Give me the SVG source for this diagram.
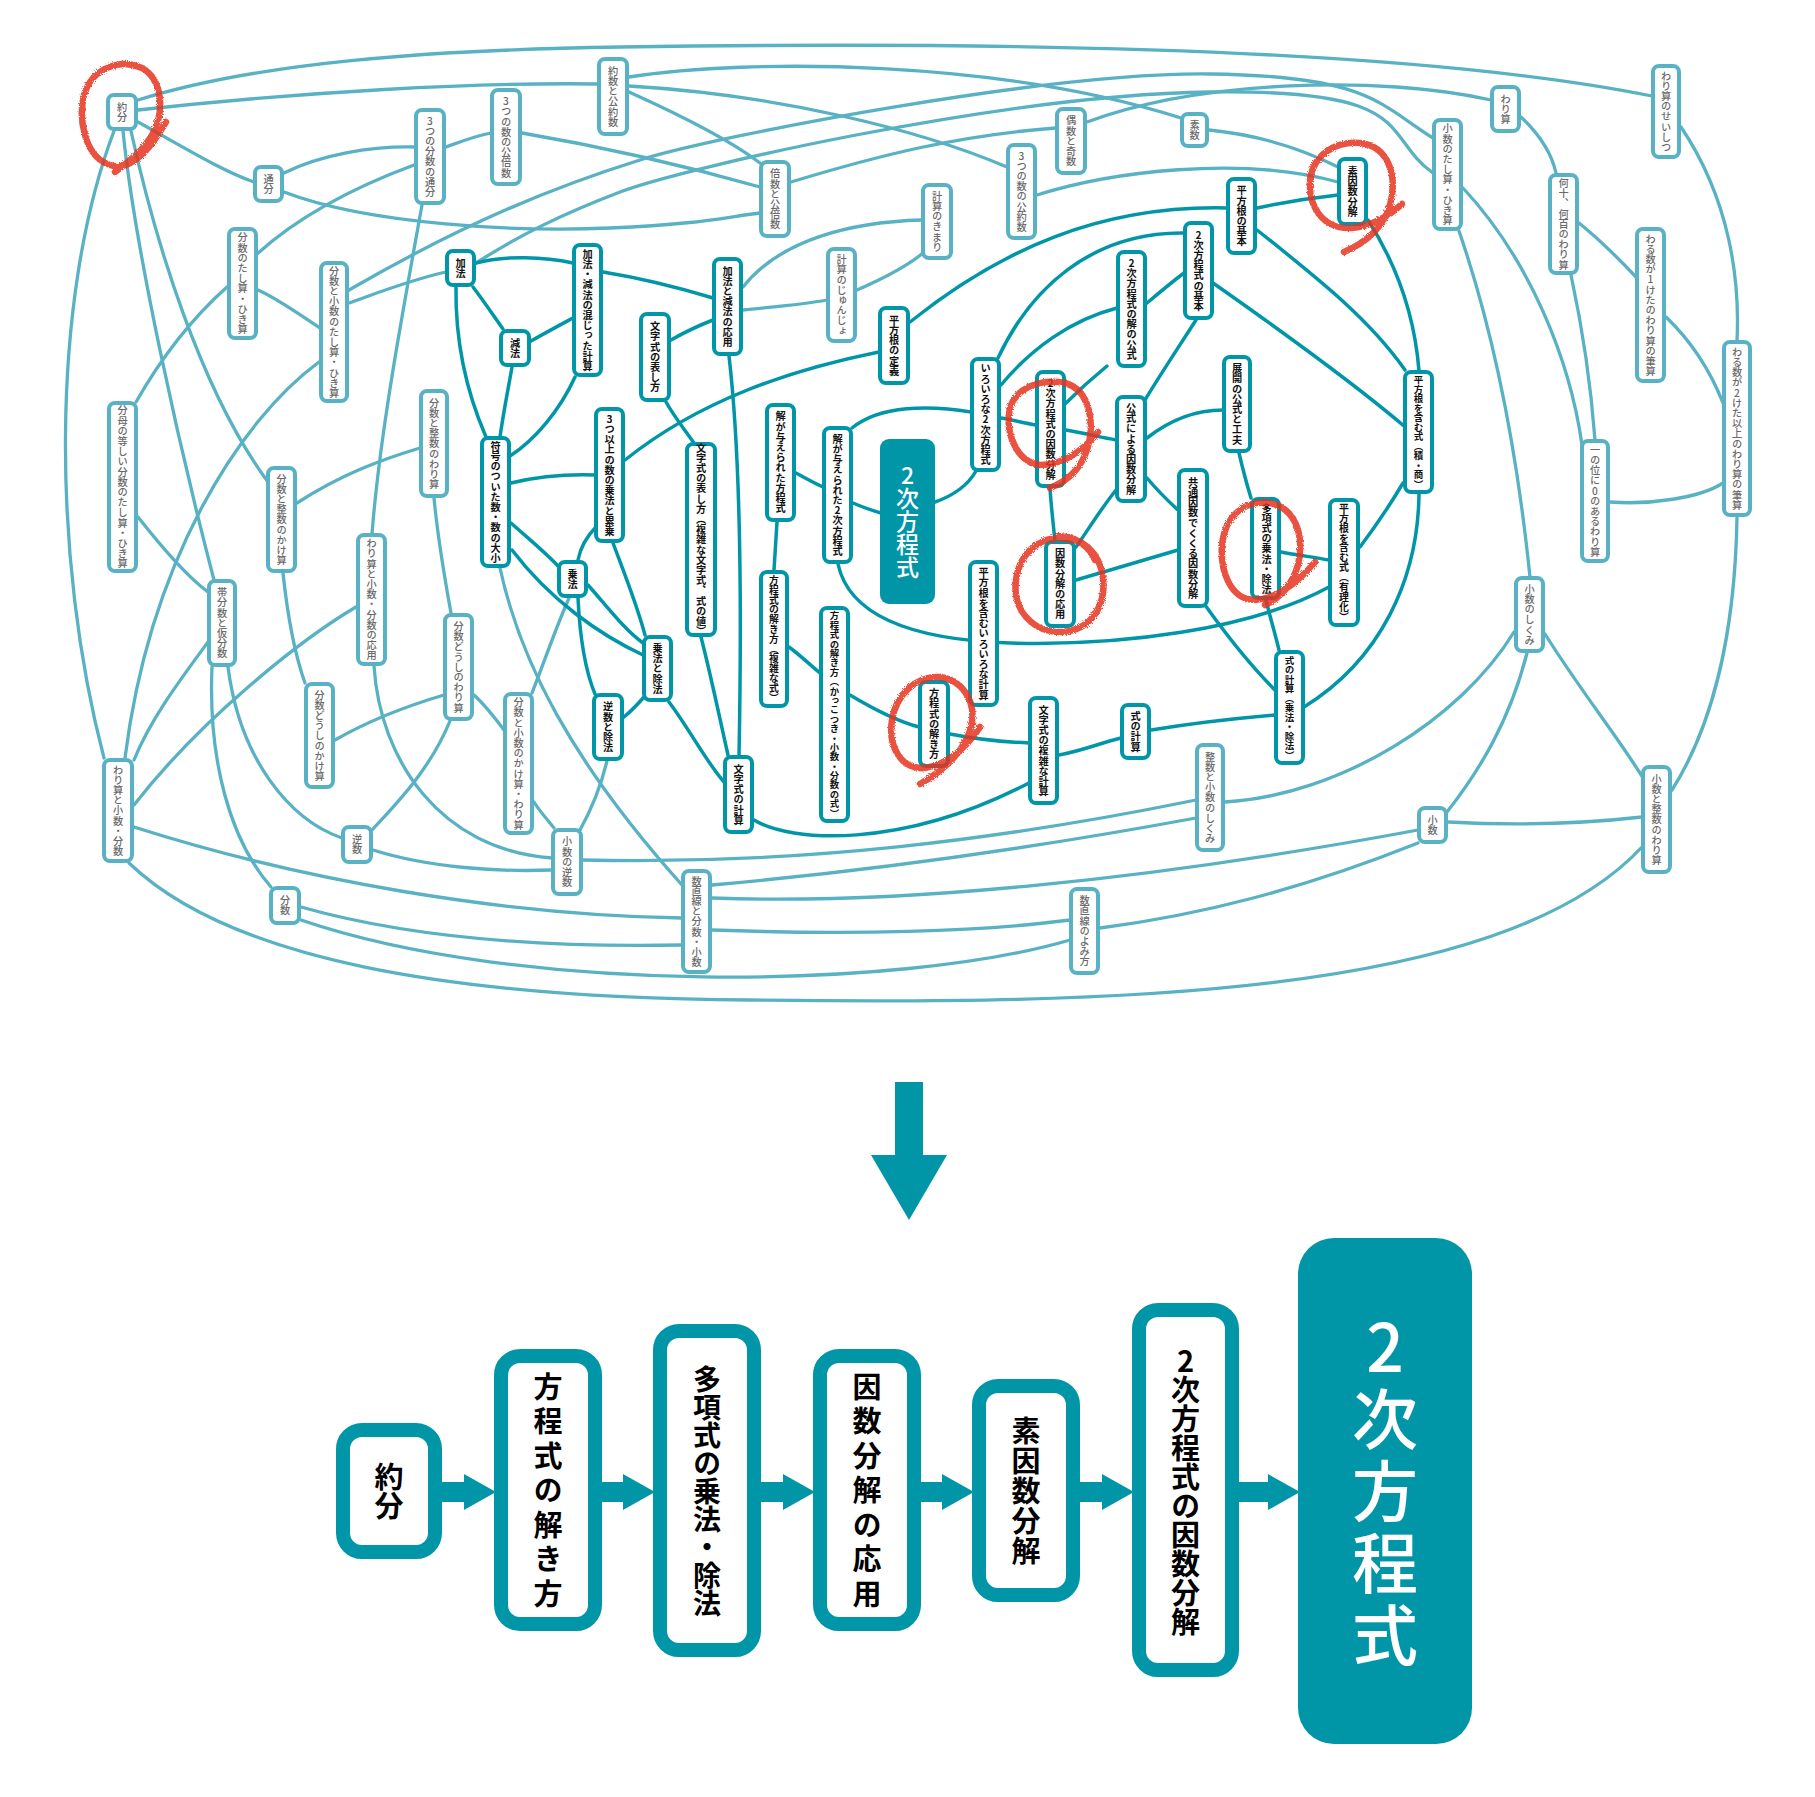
<svg xmlns="http://www.w3.org/2000/svg" width="1815" height="1797" viewBox="0 0 1815 1797">
<defs>
<style>
.e{fill:none;stroke-linecap:round}
.el{stroke:#58b2c3;stroke-width:3.3}
.ed{stroke:#0096a8;stroke-width:3.5}
.L rect{fill:#fff;stroke:#58b2c3;stroke-width:4}
.D rect{fill:#fff;stroke:#0096a8;stroke-width:4}
text{font-family:"Noto Sans CJK JP","Noto Sans CJK SC",sans-serif;writing-mode:vertical-rl;text-orientation:upright;text-anchor:middle}
.L text{fill:#6a6a6a;font-size:10.2px;font-weight:500}
.D text{fill:#111;font-size:10.2px;font-weight:700}
.big rect{fill:#0096a8}
.big text{fill:#fff;font-size:23px;font-weight:500}
.red{fill:none;stroke:#e5331c;stroke-width:6.5;stroke-linecap:round;stroke-linejoin:round;opacity:0.85}
.fb rect{fill:#fff;stroke:#0096a8;stroke-width:14}
.fb text{fill:#000;font-size:29px;font-weight:700}
.fa{fill:#0096a8}
</style>
<filter id="crayon" x="-10%" y="-10%" width="120%" height="120%">
<feTurbulence type="fractalNoise" baseFrequency="0.9" numOctaves="2" result="n"/>
<feDisplacementMap in="SourceGraphic" in2="n" scale="3.5"/>
</filter>
</defs>
<rect width="1815" height="1797" fill="#fff"/>

<g id="connectors">
<g class="e el">
<path d="M138,100 C260,62 430,50 620,47 C950,42 1400,45 1652,96"/>
<path d="M138,110 C300,92 480,82 598,84"/>
<path d="M138,122 C180,145 220,170 254,182"/>
<path d="M114,131 C50,300 52,560 104,758"/>
<path d="M123,131 C135,250 180,450 214,580"/>
<path d="M131,131 C155,240 200,390 268,482"/>
<path d="M284,173 C320,155 370,146 415,147"/>
<path d="M284,192 C370,225 520,232 610,228 S720,218 760,213"/>
<path d="M446,147 C465,140 475,136 491,133"/>
<path d="M414,165 C360,185 300,215 257,254"/>
<path d="M422,205 C405,300 380,430 372,534"/>
<path d="M522,133 C610,148 700,170 760,187"/>
<path d="M629,92 C680,115 730,140 760,163"/>
<path d="M629,86 C780,95 920,130 1007,167"/>
<path d="M629,77 C750,58 1000,60 1181,118"/>
<path d="M791,182 C880,155 960,135 1056,128"/>
<path d="M1087,122 C1200,80 1380,75 1491,100"/>
<path d="M1037,195 C1110,172 1240,155 1338,182"/>
<path d="M1209,130 C1260,135 1300,148 1338,167"/>
<path d="M349,290 C470,220 560,185 640,160 S1050,72 1210,74 S1380,105 1433,138"/>
<path d="M476,263 C520,235 560,215 620,192 S1000,95 1210,92 S1380,135 1433,173"/>
<path d="M349,303 C380,292 410,280 446,272"/>
<path d="M258,290 C280,300 300,315 320,328"/>
<path d="M227,287 C190,320 160,360 136,402"/>
<path d="M138,517 C160,545 185,575 208,592"/>
<path d="M319,362 C240,420 150,560 125,758"/>
<path d="M297,503 C340,475 380,460 420,448"/>
<path d="M283,573 C288,620 295,655 305,683"/>
<path d="M434,498 C438,540 445,580 451,613"/>
<path d="M356,607 C300,640 200,720 134,805"/>
<path d="M374,666 C380,760 440,850 552,858"/>
<path d="M208,642 C180,680 150,720 134,760"/>
<path d="M212,667 C208,760 230,840 271,887"/>
<path d="M228,667 C240,760 290,820 342,838"/>
<path d="M335,740 C370,720 410,705 444,695"/>
<path d="M450,721 C430,770 395,805 372,830"/>
<path d="M474,695 C485,705 495,718 504,730"/>
<path d="M569,598 C555,630 545,660 532,693"/>
<path d="M534,802 C540,812 548,820 554,828"/>
<path d="M373,850 C430,868 500,872 552,870"/>
<path d="M134,827 C300,880 500,915 682,918"/>
<path d="M583,860 C800,865 1000,840 1196,800"/>
<path d="M500,568 C520,660 570,760 682,885"/>
<path d="M607,761 C600,790 590,812 580,830"/>
<path d="M712,885 C880,870 1050,845 1196,818"/>
<path d="M712,898 C900,905 1150,880 1418,830"/>
<path d="M712,930 C850,935 980,932 1070,920"/>
<path d="M301,907 C400,935 530,948 682,945"/>
<path d="M1070,940 C900,990 520,995 301,920"/>
<path d="M129,863 C230,960 450,998 750,1000 C1100,1004 1500,1000 1642,847"/>
<path d="M1418,843 C1300,890 1200,915 1100,928"/>
<path d="M1448,822 C1520,826 1580,824 1642,817"/>
<path d="M1514,632 C1460,720 1340,795 1225,802"/>
<path d="M1527,653 C1510,720 1480,770 1447,812"/>
<path d="M1545,634 C1580,690 1620,740 1643,778"/>
<path d="M1737,517 C1735,640 1710,730 1672,790"/>
<path d="M1610,502 C1650,505 1700,498 1723,483"/>
<path d="M1571,275 C1585,340 1592,400 1595,440"/>
<path d="M1459,231 C1500,350 1520,480 1530,577"/>
<path d="M1463,188 C1530,260 1570,360 1582,445"/>
<path d="M1521,117 C1540,135 1552,155 1556,173"/>
<path d="M1579,223 C1600,240 1620,260 1636,277"/>
<path d="M1666,317 C1690,340 1710,370 1723,403"/>
<path d="M1681,127 C1730,200 1740,280 1737,341"/>
<path d="M923,253 C905,268 880,280 857,290"/>
<path d="M743,287 C780,240 850,222 922,220"/>
<path d="M743,310 C770,307 800,305 827,300"/>
</g>
<g class="e ed">
<path d="M456,287 C455,350 470,400 486,437"/>
<path d="M473,287 C483,300 493,315 503,329"/>
<path d="M476,263 C505,255 545,257 573,263"/>
<path d="M603,272 C640,278 680,288 713,298"/>
<path d="M531,341 C545,333 560,325 573,318"/>
<path d="M512,367 C508,390 503,415 500,437"/>
<path d="M575,377 C560,410 535,440 510,456"/>
<path d="M671,340 C685,332 700,325 713,320"/>
<path d="M729,356 C740,450 742,600 739,756"/>
<path d="M666,402 C675,418 685,430 694,443"/>
<path d="M511,483 C540,476 565,474 595,475"/>
<path d="M625,460 C700,400 790,370 879,352"/>
<path d="M511,523 C530,540 545,552 558,566"/>
<path d="M512,550 C550,600 600,635 643,655"/>
<path d="M588,585 C610,610 625,630 643,643"/>
<path d="M596,527 C585,538 580,550 578,560"/>
<path d="M613,543 C625,575 637,605 645,635"/>
<path d="M578,598 C580,640 585,670 595,694"/>
<path d="M644,697 C637,705 630,712 624,717"/>
<path d="M669,702 C690,730 705,760 724,782"/>
<path d="M701,637 C712,680 720,720 728,755"/>
<path d="M754,820 C790,842 900,850 1029,783"/>
<path d="M950,734 C980,740 1005,742 1029,743"/>
<path d="M1059,755 C1085,750 1100,743 1121,738"/>
<path d="M1151,730 C1200,722 1240,718 1275,715"/>
<path d="M850,695 C875,710 900,722 919,727"/>
<path d="M789,647 C800,655 810,665 820,673"/>
<path d="M777,522 C776,540 775,555 774,570"/>
<path d="M796,473 C805,478 814,483 823,487"/>
<path d="M853,503 C862,507 871,510 881,513"/>
<path d="M852,428 C880,405 930,405 971,412"/>
<path d="M935,502 C955,495 968,485 976,471"/>
<path d="M1001,418 C1013,420 1024,423 1036,425"/>
<path d="M1184,233 C1090,232 1030,290 998,358"/>
<path d="M1117,308 C1070,320 1030,350 1001,385"/>
<path d="M1147,303 C1160,292 1172,282 1184,273"/>
<path d="M1107,366 C1090,380 1077,392 1065,404"/>
<path d="M1196,320 C1180,345 1160,375 1145,400"/>
<path d="M1066,430 C1083,433 1100,437 1116,440"/>
<path d="M1050,488 C1051,505 1053,522 1055,541"/>
<path d="M1116,490 C1100,510 1088,530 1076,547"/>
<path d="M1147,478 C1157,490 1167,500 1178,510"/>
<path d="M1076,580 C1110,570 1145,560 1178,550"/>
<path d="M1147,438 C1170,420 1195,410 1223,410"/>
<path d="M1239,453 C1243,470 1247,485 1251,498"/>
<path d="M1281,552 C1297,555 1312,557 1329,560"/>
<path d="M1266,600 C1270,617 1275,633 1279,650"/>
<path d="M1205,605 C1230,640 1255,670 1275,690"/>
<path d="M1403,483 C1390,505 1375,527 1360,547"/>
<path d="M1419,494 C1418,580 1380,660 1304,707"/>
<path d="M1257,230 C1320,280 1370,320 1405,370"/>
<path d="M1213,283 C1280,330 1350,380 1404,426"/>
<path d="M1368,220 C1400,270 1415,320 1419,371"/>
<path d="M1257,208 C1285,202 1310,198 1338,195"/>
<path d="M910,322 C1000,250 1100,205 1227,208"/>
<path d="M838,564 C850,620 920,640 1010,643 C1120,646 1250,630 1329,587"/>
</g>
</g>

<g id="nodes">
<g id="n01" class="L"><rect x="108" y="95" width="28" height="34" rx="6"/><text x="122" y="112">約分</text></g>
<g id="n02" class="L"><rect x="255" y="167" width="27" height="34" rx="6"/><text x="268.5" y="184">通分</text></g>
<g id="n03" class="L"><rect x="416" y="110" width="28" height="93" rx="6"/><text x="430" y="156.5">3つの分数の通分</text></g>
<g id="n04" class="L"><rect x="492" y="90" width="28" height="94" rx="6"/><text x="506" y="137">3つの数の公倍数</text></g>
<g id="n05" class="L"><rect x="599" y="59" width="28" height="75" rx="6"/><text x="613" y="96.5">約数と公約数</text></g>
<g id="n06" class="L"><rect x="229" y="229" width="27" height="109" rx="6"/><text x="242.5" y="283.5">分数のたし算・ひき算</text></g>
<g id="n07" class="L"><rect x="321" y="263" width="26" height="138" rx="6"/><text x="334" y="332">分数と小数のたし算・ひき算</text></g>
<g id="n11" class="L"><rect x="761" y="162" width="28" height="74" rx="6"/><text x="775" y="199">倍数と公倍数</text></g>
<g id="n12" class="L"><rect x="1057" y="109" width="28" height="64" rx="6"/><text x="1071" y="141">偶数と奇数</text></g>
<g id="n13" class="L"><rect x="1182" y="114" width="25" height="32" rx="6"/><text x="1194.5" y="130">素数</text></g>
<g id="n14" class="L"><rect x="1008" y="145" width="27" height="93" rx="6"/><text x="1021.5" y="191.5">3つの数の公約数</text></g>
<g id="n15" class="L"><rect x="923" y="185" width="28" height="73" rx="6"/><text x="937" y="221.5">計算のきまり</text></g>
<g id="n16" class="L"><rect x="828" y="249" width="27" height="92" rx="6"/><text x="841.5" y="295">計算のじゅんじょ</text></g>
<g id="n24" class="L"><rect x="1434" y="120" width="27" height="109" rx="6"/><text x="1447.5" y="174.5">小数のたし算・ひき算</text></g>
<g id="n25" class="L"><rect x="1492" y="87" width="27" height="44" rx="6"/><text x="1505.5" y="109">わり算</text></g>
<g id="n26" class="L"><rect x="1653" y="66" width="26" height="91" rx="6"/><text x="1666" y="111.5">わり算のせいしつ</text></g>
<g id="n27" class="L"><rect x="1550" y="175" width="27" height="98" rx="6"/><text x="1563.5" y="224">何十、何百のわり算</text></g>
<g id="n28" class="L"><rect x="1637" y="229" width="27" height="152" rx="6"/><text x="1650.5" y="305">わる数が1けたのわり算の筆算</text></g>
<g id="n29" class="L"><rect x="1724" y="342" width="26" height="173" rx="6"/><text x="1737" y="428.5">わる数が2けた以上のわり算の筆算</text></g>
<g id="n30" class="L"><rect x="109" y="403" width="27" height="168" rx="6"/><text x="122.5" y="487">分母の等しい分数のたし算・ひき算</text></g>
<g id="n31" class="L"><rect x="268" y="468" width="27" height="103" rx="6"/><text x="281.5" y="519.5">分数と整数のかけ算</text></g>
<g id="n32" class="L"><rect x="421" y="391" width="26" height="105" rx="6"/><text x="434" y="443.5">分数と整数のわり算</text></g>
<g id="n33" class="L"><rect x="358" y="535" width="27" height="129" rx="6"/><text x="371.5" y="599.5">わり算と小数・分数の応用</text></g>
<g id="n34" class="L"><rect x="209" y="581" width="26" height="84" rx="6"/><text x="222" y="623">帯分数と仮分数</text></g>
<g id="n35" class="L"><rect x="445" y="615" width="27" height="104" rx="6"/><text x="458.5" y="667">分数どうしのわり算</text></g>
<g id="n58" class="L"><rect x="1582" y="441" width="26" height="120" rx="6"/><text x="1595" y="501">一の位に0のあるわり算</text></g>
<g id="n59" class="L"><rect x="1516" y="578" width="27" height="73" rx="6"/><text x="1529.5" y="614.5">小数のしくみ</text></g>
<g id="n60" class="L"><rect x="104" y="760" width="28" height="101" rx="6"/><text x="118" y="810.5">わり算と小数・分数</text></g>
<g id="n61" class="L"><rect x="306" y="684" width="27" height="103" rx="6"/><text x="319.5" y="735.5">分数どうしのかけ算</text></g>
<g id="n62" class="L"><rect x="343" y="827" width="28" height="35" rx="6"/><text x="357" y="844.5">逆数</text></g>
<g id="n63" class="L"><rect x="505" y="694" width="27" height="139" rx="6"/><text x="518.5" y="763.5">分数と小数のかけ算・わり算</text></g>
<g id="n64" class="L"><rect x="553" y="830" width="28" height="64" rx="6"/><text x="567" y="862">小数の逆数</text></g>
<g id="n65" class="L"><rect x="271" y="888" width="28" height="35" rx="6"/><text x="285" y="905.5">分数</text></g>
<g id="n70" class="L"><rect x="683" y="871" width="27" height="101" rx="6"/><text x="696.5" y="921.5">数直線と分数・小数</text></g>
<g id="n71" class="L"><rect x="1071" y="889" width="27" height="84" rx="6"/><text x="1084.5" y="931">数直線のよみ方</text></g>
<g id="n72" class="L"><rect x="1197" y="745" width="26" height="105" rx="6"/><text x="1210" y="797.5">整数と小数のしくみ</text></g>
<g id="n73" class="L"><rect x="1419" y="808" width="27" height="34" rx="6"/><text x="1432.5" y="825">小数</text></g>
<g id="n74" class="L"><rect x="1643" y="767" width="27" height="105" rx="6"/><text x="1656.5" y="819.5">小数と整数のわり算</text></g>

<g id="n08" class="D"><rect x="447" y="251" width="27" height="34" rx="6"/><text x="460.5" y="268">加法</text></g>
<g id="n09" class="D"><rect x="501" y="331" width="28" height="34" rx="6"/><text x="515" y="348">減法</text></g>
<g id="n10" class="D"><rect x="574" y="245" width="27" height="130" rx="6"/><text x="587.5" y="310">加法・減法の混じった計算</text></g>
<g id="n17" class="D"><rect x="714" y="259" width="27" height="95" rx="6"/><text x="727.5" y="306.5">加法と減法の応用</text></g>
<g id="n18" class="D"><rect x="880" y="308" width="28" height="75" rx="6"/><text x="894" y="345.5">平方根の定義</text></g>
<g id="n19" class="D"><rect x="641" y="314" width="28" height="86" rx="6"/><text x="655" y="357">文字式の表し方</text></g>
<g id="n20" class="D"><rect x="1118" y="252" width="27" height="114" rx="6"/><text x="1131.5" y="309">2次方程式の解の公式</text></g>
<g id="n21" class="D"><rect x="1185" y="223" width="27" height="95" rx="6"/><text x="1198.5" y="270.5">2次方程式の基本</text></g>
<g id="n22" class="D"><rect x="1339" y="159" width="27" height="65" rx="6"/><text x="1352.5" y="191.5">素因数分解</text></g>
<g id="n23" class="D"><rect x="1228" y="179" width="27" height="74" rx="6"/><text x="1241.5" y="216">平方根の基本</text></g>
<g id="n36" class="D"><rect x="482" y="438" width="27" height="128" rx="6"/><text x="495.5" y="502">符号のついた数・数の大小</text></g>
<g id="n37" class="D"><rect x="559" y="562" width="27" height="34" rx="6"/><text x="572.5" y="579">乗法</text></g>
<g id="n38" class="D"><rect x="596" y="409" width="27" height="132" rx="6"/><text x="609.5" y="475">3つ以上の数の乗法と累乗</text></g>
<g id="n39" class="D"><rect x="767" y="405" width="27" height="115" rx="6"/><text x="780.5" y="462.5">解が与えられた方程式</text></g>
<g id="n40" class="D"><rect x="824" y="428" width="27" height="134" rx="6"/><text x="837.5" y="495">解が与えられた2次方程式</text></g>
<g id="n42" class="D"><rect x="972" y="359" width="27" height="111" rx="6"/><text x="985.5" y="414.5">いろいろな2次方程式</text></g>
<g id="n43" class="D"><rect x="1037" y="372" width="27" height="114" rx="6"/><text x="1050.5" y="429">2次方程式の因数分解</text></g>
<g id="n44" class="D"><rect x="1117" y="397" width="28" height="104" rx="6"/><text x="1131" y="449">公式による因数分解</text></g>
<g id="n45" class="D"><rect x="1179" y="470" width="28" height="136" rx="6"/><text x="1193" y="538">共通因数でくくる因数分解</text></g>
<g id="n46" class="D"><rect x="1046" y="542" width="28" height="84" rx="6"/><text x="1060" y="584">因数分解の応用</text></g>
<g id="n47" class="D"><rect x="970" y="562" width="27" height="143" rx="6"/><text x="983.5" y="633.5">平方根を含むいろいろな計算</text></g>
<g id="n48" class="D"><rect x="687" y="444" width="28" height="191" rx="6"/><text x="701" y="539.5">文字式の表し方（複雑な文字式、式の値）</text></g>
<g id="n49" class="D"><rect x="644" y="637" width="27" height="63" rx="6"/><text x="657.5" y="668.5">乗法と除法</text></g>
<g id="n50" class="D"><rect x="761" y="572" width="26" height="134" rx="6"/><text x="774" y="639" style="font-size:9.8px">方程式の解き方（複雑な式）</text></g>
<g id="n51" class="D"><rect x="821" y="608" width="27" height="213" rx="6"/><text x="834.5" y="714.5" style="font-size:9.4px">方程式の解き方（かっこつき・小数・分数の式）</text></g>
<g id="n52" class="D"><rect x="920" y="682" width="28" height="84" rx="6"/><text x="934" y="724">方程式の解き方</text></g>
<g id="n53" class="D"><rect x="1224" y="357" width="26" height="94" rx="6"/><text x="1237" y="404">展開の公式と工夫</text></g>
<g id="n54" class="D"><rect x="1405" y="372" width="27" height="120" rx="6"/><text x="1418.5" y="432" style="font-size:9.5px">平方根を含む式（積・商）</text></g>
<g id="n55" class="D"><rect x="1252" y="499" width="27" height="99" rx="6"/><text x="1266.5" y="548.5">多項式の乗法・除法</text></g>
<g id="n56" class="D"><rect x="1330" y="500" width="28" height="125" rx="6"/><text x="1344" y="562.5" style="font-size:9.9px">平方根を含む式（有理化）</text></g>
<g id="n57" class="D"><rect x="1276" y="652" width="27" height="111" rx="6"/><text x="1289.5" y="707.5" style="font-size:9.5px">式の計算（乗法・除法）</text></g>
<g id="n66" class="D"><rect x="594" y="695" width="28" height="64" rx="6"/><text x="608" y="727">逆数と除法</text></g>
<g id="n67" class="D"><rect x="725" y="757" width="27" height="75" rx="6"/><text x="738.5" y="794.5">文字式の計算</text></g>
<g id="n68" class="D"><rect x="1030" y="698" width="27" height="105" rx="6"/><text x="1043.5" y="750.5">文字式の複雑な計算</text></g>
<g id="n69" class="D"><rect x="1122" y="705" width="27" height="53" rx="6"/><text x="1135.5" y="731.5">式の計算</text></g>
<g id="n41" class="big"><rect x="880" y="439" width="55" height="165" rx="9"/><text x="907.5" y="521.5">2次方程式</text></g>
</g>

<g id="marks" filter="url(#crayon)">
<path class="red" d="M166,122 C150,150 130,172 110,165 C85,157 78,120 84,95 C92,68 120,58 142,68 C163,80 165,112 152,135 C142,152 128,162 115,172"/>
<path class="red" d="M1402,204 C1390,215 1372,226 1352,228 C1322,230 1308,205 1310,180 C1313,155 1335,141 1360,143 C1388,146 1398,175 1390,205 C1383,228 1365,243 1344,252"/>
<path class="red" d="M1098,432 C1085,448 1065,465 1040,465 C1015,462 1005,430 1010,408 C1016,388 1040,378 1065,383 C1090,390 1097,425 1085,455 C1078,472 1065,482 1050,488"/>
<path class="red" d="M1072,540 C1045,532 1020,550 1016,580 C1012,612 1035,633 1062,632 C1092,630 1106,605 1103,578 C1100,552 1082,537 1058,536 C1080,538 1090,548 1095,560"/>
<path class="red" d="M1315,562 C1300,580 1280,598 1255,600 C1230,600 1220,570 1222,545 C1225,515 1245,500 1270,503 C1295,508 1305,535 1298,565 C1292,585 1280,598 1265,605"/>
<path class="red" d="M980,727 C965,750 945,765 925,768 C900,770 888,745 892,720 C896,695 915,676 940,677 C962,680 975,700 972,722 C968,748 945,770 920,784"/>
</g>

<g id="down-arrow" class="fa">
<rect x="895" y="1082" width="28" height="75"/>
<polygon points="871,1155 947,1155 909,1220"/>
</g>

<g id="flow-connectors" class="fa">
<rect x="440" y="1482" width="26" height="20"/><polygon points="464,1474 496,1492 464,1510"/>
<rect x="600" y="1482" width="25" height="20"/><polygon points="623,1474 655,1492 623,1510"/>
<rect x="759" y="1482" width="26" height="20"/><polygon points="783,1474 815,1492 783,1510"/>
<rect x="919" y="1482" width="25" height="20"/><polygon points="942,1474 974,1492 942,1510"/>
<rect x="1078" y="1482" width="26" height="20"/><polygon points="1102,1474 1134,1492 1102,1510"/>
<rect x="1237" y="1482" width="33" height="20"/><polygon points="1268,1474 1300,1492 1268,1510"/>
</g>

<g id="flow-nodes">
<g id="f1" class="fb"><rect x="343" y="1430" width="92" height="122" rx="19"/><text x="389" y="1491">約分</text></g>
<g id="f2" class="fb"><rect x="501" y="1356" width="94" height="268" rx="19"/><text x="548" y="1493" style="letter-spacing:5.5px">方程式の解き方</text></g>
<g id="f3" class="fb"><rect x="660" y="1331" width="94" height="319" rx="19"/><text x="707" y="1491" style="font-size:28px">多項式の乗法・除法</text></g>
<g id="f4" class="fb"><rect x="820" y="1356" width="94" height="268" rx="19"/><text x="867" y="1493" style="letter-spacing:5.5px">因数分解の応用</text></g>
<g id="f5" class="fb"><rect x="979" y="1386" width="94" height="209" rx="19"/><text x="1026" y="1491" style="letter-spacing:1px">素因数分解</text></g>
<g id="f6" class="fb"><rect x="1139" y="1310" width="93" height="360" rx="19"/><text x="1185.5" y="1491">2次方程式の因数分解</text></g>
<g id="f7"><rect x="1298" y="1238" width="174" height="506" rx="36" fill="#0096a8"/><text x="1385" y="1494" style="fill:#fff;font-size:66px;font-weight:500;letter-spacing:6px">2次方程式</text></g>
</g>
</svg>
